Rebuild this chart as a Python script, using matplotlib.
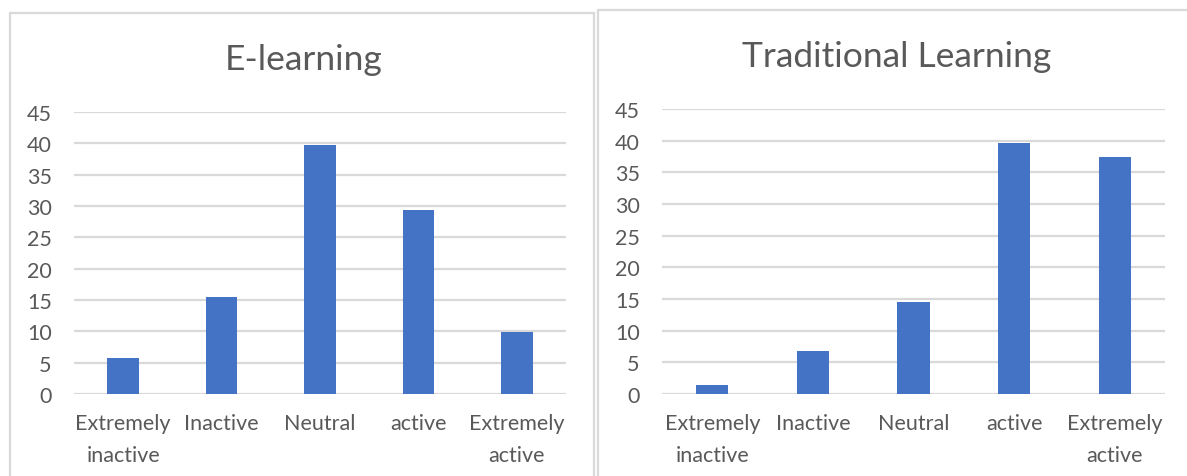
import matplotlib
matplotlib.use("Agg")
import matplotlib.pyplot as plt
from matplotlib.patches import Rectangle

plt.rcParams["font.family"] = ["Lato", "DejaVu Sans"]

categories = ["Extremely\ninactive", "Inactive", "Neutral", "active", "Extremely\nactive"]
elearning = [5.7, 15.5, 39.7, 29.3, 9.9]
traditional = [1.5, 6.8, 14.6, 39.6, 37.5]
yticks = [0, 5, 10, 15, 20, 25, 30, 35, 40, 45]

W, H = 1187, 477
BAR = "#4472C4"
GRID = "#D9D9D9"
TEXT = "#595959"

fig = plt.figure(figsize=(W / 100, H / 100), dpi=100)


def px_axes(x0, x1, ytop, ybot):
    return fig.add_axes([x0 / W, 1 - ybot / H, (x1 - x0) / W, (ybot - ytop) / H])


# chart-area borders (as in the Excel screenshot)
for (x0, y0, x1, y1) in [(10, 14, 594, 480), (598, 11, 1190, 480)]:
    fig.patches.append(Rectangle((x0 / W, 1 - y1 / H), (x1 - x0) / W, (y1 - y0) / H,
                                 transform=fig.transFigure, fill=False,
                                 edgecolor=GRID, linewidth=1.6))

panels = [
    ("E-learning", elearning, (74, 566, 113, 395), 304, 60),
    ("Traditional Learning", traditional, (662, 1165, 110, 395), 897, 57),
]

for title, vals, (x0, x1, yt, yb), tx, ty in panels:
    ax = px_axes(x0, x1, yt, yb)
    x = range(len(categories))
    ax.bar(x, vals, width=0.32, color=BAR, zorder=3)
    ax.set_xlim(-0.5, len(categories) - 0.5)
    ax.set_ylim(0, 45)
    ax.set_yticks(yticks)
    ax.set_xticks(list(x))
    ax.set_xticklabels(categories, linespacing=1.75)
    ax.tick_params(axis="both", length=0, labelsize=15.5, colors=TEXT)
    ax.tick_params(axis="y", pad=16)
    ax.tick_params(axis="x", pad=14)
    ax.grid(axis="y", color=GRID, linewidth=1.6, zorder=0)
    for s in ax.spines.values():
        s.set_visible(False)
    ax.set_facecolor("none")
    fig.text(tx / W, 1 - ty / H, title, ha="center", va="center",
             fontsize=25.5, color=TEXT)

fig.savefig("out.png", dpi=100)
